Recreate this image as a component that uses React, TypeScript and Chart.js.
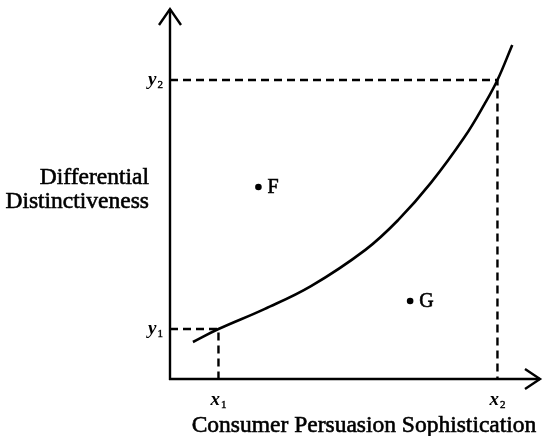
import React, { useEffect, useRef } from "react";
import { Chart, registerables } from "chart.js";

Chart.register(...registerables);

// Curve (Differential Distinctiveness vs. Consumer Persuasion Sophistication)
const CURVE_X = [6.2, 13.1, 25.5, 38.1, 52.8, 61.7, 70.5, 79.6, 85.0, 88.5, 92.5];
const CURVE_Y = [10.0, 13.5, 18.9, 25.1, 34.9, 43.0, 53.0, 65.4, 74.3, 80.8, 90.3];

// Marked positions
const X_MARKS = [13.1, 88.5];
const Y_MARKS = [13.5, 80.8];
const X_MARK_LABELS = [["x", "1"], ["x", "2"]];
const Y_MARK_LABELS = [["y", "1"], ["y", "2"]];

// Labelled points
const POINT_NAMES = ["F", "G"];
const POINT_X = [23.9, 64.9];
const POINT_Y = [51.9, 21.1];

const X_TITLE = "Consumer Persuasion Sophistication";
const Y_TITLE = ["Differential", "Distinctiveness"];

const FONT = '"Liberation Serif", "Times New Roman", serif';

function heavyText(ctx: CanvasRenderingContext2D, s: string, x: number, y: number, w: number) {
  ctx.fillText(s, x, y);
  ctx.lineWidth = w;
  ctx.strokeText(s, x, y);
}

function drawSub(ctx: CanvasRenderingContext2D, base: string, sub: string, x: number, y: number, align: "center" | "right") {
  ctx.font = `italic bold 19px ${FONT}`;
  const wb = ctx.measureText(base).width;
  ctx.font = `11px ${FONT}`;
  const ws = ctx.measureText(sub).width;
  const total = wb + ws + 1;
  const sx = align === "center" ? x - total / 2 : x - total;
  ctx.textAlign = "left";
  ctx.textBaseline = "alphabetic";
  ctx.font = `italic bold 19px ${FONT}`;
  ctx.fillText(base, sx, y);
  ctx.font = `11px ${FONT}`;
  heavyText(ctx, sub, sx + wb + 1, y + 3, 0.4);
}

const decorPlugin = {
  id: "decor",
  afterDraw(chart: any) {
    const { ctx, chartArea, scales } = chart;
    const { left, right, top, bottom } = chartArea;
    const xs = scales.x;
    const ys = scales.y;
    ctx.save();
    ctx.strokeStyle = "#000";
    ctx.fillStyle = "#000";
    ctx.lineWidth = 2.4;
    ctx.lineCap = "butt";
    // y axis with open arrow
    ctx.beginPath();
    ctx.moveTo(left, bottom + 1);
    ctx.lineTo(left, top);
    ctx.stroke();
    ctx.beginPath();
    ctx.moveTo(left - 11, top + 16);
    ctx.lineTo(left, top);
    ctx.lineTo(left + 11, top + 16);
    ctx.stroke();
    // x axis with open arrow
    ctx.beginPath();
    ctx.moveTo(left - 1, bottom);
    ctx.lineTo(right, bottom);
    ctx.stroke();
    ctx.beginPath();
    ctx.moveTo(right - 15, bottom - 10);
    ctx.lineTo(right, bottom);
    ctx.lineTo(right - 15, bottom + 10);
    ctx.stroke();

    // tick labels
    X_MARKS.forEach((v, i) => {
      const px = xs.getPixelForValue(v);
      drawSub(ctx, X_MARK_LABELS[i][0], X_MARK_LABELS[i][1], px, bottom + 26, "center");
    });
    Y_MARKS.forEach((v, i) => {
      const py = ys.getPixelForValue(v);
      drawSub(ctx, Y_MARK_LABELS[i][0], Y_MARK_LABELS[i][1], left - 7, py + 5, "right");
    });

    // point labels
    ctx.font = `20px ${FONT}`;
    ctx.textAlign = "left";
    ctx.textBaseline = "alphabetic";
    POINT_NAMES.forEach((n, i) => {
      const px = xs.getPixelForValue(POINT_X[i]);
      const py = ys.getPixelForValue(POINT_Y[i]);
      heavyText(ctx, n, px + 9, py + 6, 0.6);
    });

    // axis titles
    ctx.font = `23.5px ${FONT}`;
    ctx.textAlign = "right";
    heavyText(ctx, Y_TITLE[0], left - 21, 184, 0.6);
    heavyText(ctx, Y_TITLE[1], left - 21, 208, 0.6);
    ctx.textAlign = "center";
    heavyText(ctx, X_TITLE, left + 194, bottom + 53, 0.6);
    ctx.restore();
  },
};

export default function App() {
  const ref = useRef<HTMLCanvasElement>(null);
  useEffect(() => {
    if (!ref.current) return;
    const curve = CURVE_X.map((x, i) => ({ x, y: CURVE_Y[i] }));
    const guide1 = [
      { x: 0, y: Y_MARKS[0] },
      { x: X_MARKS[0], y: Y_MARKS[0] },
      { x: X_MARKS[0], y: 0 },
    ];
    const guide2 = [
      { x: 0, y: Y_MARKS[1] },
      { x: X_MARKS[1], y: Y_MARKS[1] },
      { x: X_MARKS[1], y: 0 },
    ];
    const pts = POINT_X.map((x, i) => ({ x, y: POINT_Y[i] }));
    const chart = new Chart(ref.current, {
      type: "scatter",
      data: {
        datasets: [
          {
            data: curve,
            showLine: true,
            borderColor: "#000",
            borderWidth: 2.6,
            pointRadius: 0,
            tension: 0.4,
          } as any,
          {
            data: guide1,
            showLine: true,
            borderColor: "#000",
            borderWidth: 2.4,
            borderDash: [8, 5],
            pointRadius: 0,
          },
          {
            data: guide2,
            showLine: true,
            borderColor: "#000",
            borderWidth: 2.4,
            borderDash: [8, 5],
            pointRadius: 0,
          },
          {
            data: pts,
            pointRadius: 3.3,
            pointBackgroundColor: "#000",
            pointBorderColor: "#000",
            pointBorderWidth: 0,
          },
        ],
      },
      options: {
        responsive: false,
        animation: false,
        clip: false as any,
        layout: { padding: { left: 170, right: 1, top: 9, bottom: 57 } },
        plugins: { legend: { display: false }, tooltip: { enabled: false }, title: { display: false } },
        scales: {
          x: { type: "linear", min: 0, max: 100, display: false },
          y: { type: "linear", min: 0, max: 100, display: false },
        },
      },
      plugins: [decorPlugin],
    });
    return () => chart.destroy();
  }, []);
  return (
    <div style={{ position: "absolute", left: 0, top: 0, width: 544, height: 436, background: "#fff" }}>
      <canvas ref={ref} width={544} height={436} />
    </div>
  );
}
